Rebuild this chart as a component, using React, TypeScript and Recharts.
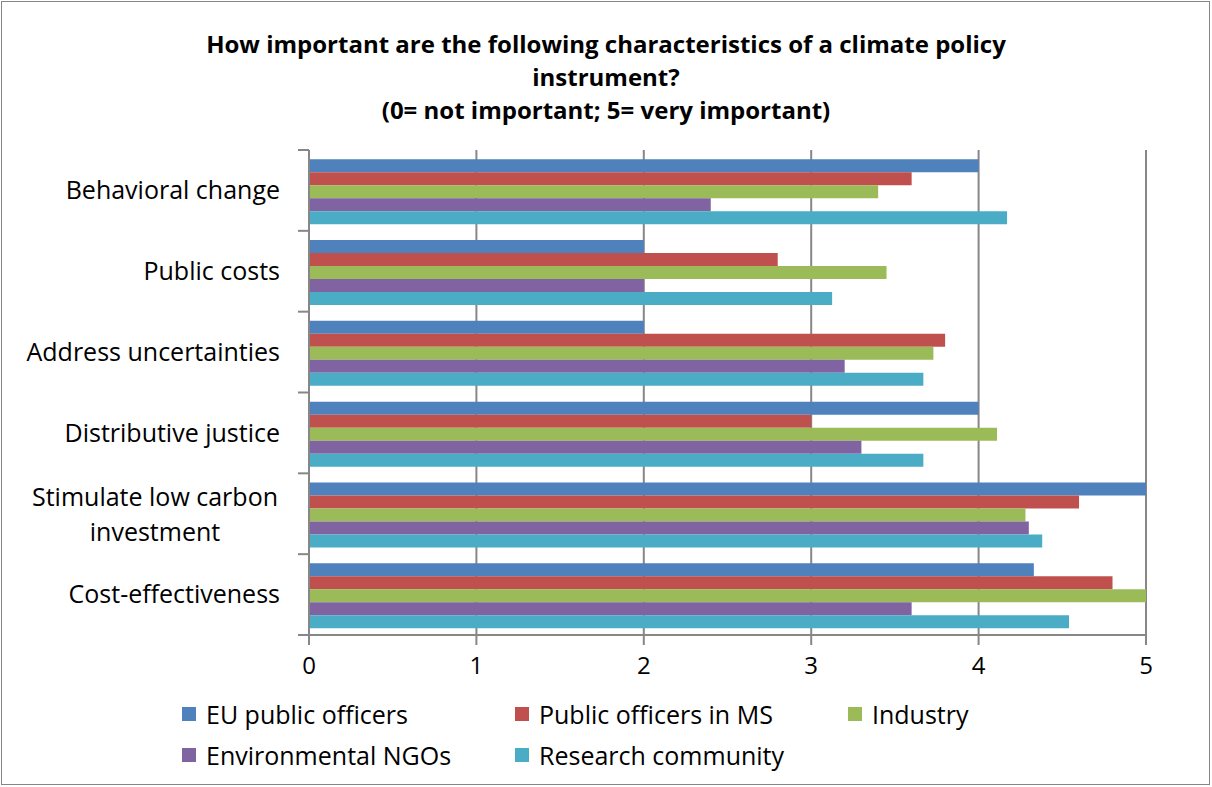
import React from "react";
import { BarChart, Bar, XAxis, YAxis, CartesianGrid } from "recharts";

// Survey scores (0 = not important, 5 = very important)
const categories = [
  "Behavioral change",
  "Public costs",
  "Address uncertainties",
  "Distributive justice",
  "Stimulate low carbon investment",
  "Cost-effectiveness",
];
const euOfficers = [4.0, 2.0, 2.0, 4.0, 5.0, 4.33];
const msOfficers = [3.6, 2.8, 3.8, 3.0, 4.6, 4.8];
const industry = [3.4, 3.45, 3.73, 4.11, 4.28, 5.0];
const ngos = [2.4, 2.0, 3.2, 3.3, 4.3, 3.6];
const research = [4.17, 3.125, 3.67, 3.67, 4.38, 4.54];
const xTicks = [0, 1, 2, 3, 4, 5];

const titleLines = [
  "How important are the following characteristics of a climate policy",
  "instrument?",
  "(0= not important; 5= very important)",
];

const series = [
  { key: "eu", name: "EU public officers", color: "#4F81BD", values: euOfficers },
  { key: "ms", name: "Public officers in MS", color: "#C0504D", values: msOfficers },
  { key: "ind", name: "Industry", color: "#9BBB59", values: industry },
  { key: "ngo", name: "Environmental NGOs", color: "#8064A2", values: ngos },
  { key: "res", name: "Research community", color: "#4BACC6", values: research },
];

const data = categories.map((c, i) => {
  const row: any = { category: c };
  series.forEach((s) => (row[s.key] = s.values[i]));
  return row;
});

const FONT = "'Open Sans', Lato, sans-serif";
const GRID = "#878787";
const W = 1212;
const H = 787;
const M = { top: 150, right: 66, bottom: 112, left: 0 };
const X_AXIS_H = 40;
const PLOT_H = H - M.top - M.bottom - X_AXIS_H;
const BAND = PLOT_H / categories.length;

// wrapped labels, as Excel broke them
const wrapped: Record<string, string[]> = {
  "Stimulate low carbon investment": ["Stimulate low carbon", "investment"],
};

function CategoryTick(props: any) {
  const { x, y, payload, index } = props;
  const lines = wrapped[payload.value] || [payload.value];
  const lineX = x + 18;
  return (
    <g>
      <line x1={lineX} x2={lineX + 11} y1={y - BAND / 2} y2={y - BAND / 2} stroke={GRID} strokeWidth={2} />
      {index === categories.length - 1 && (
        <line x1={lineX} x2={lineX + 11} y1={y + BAND / 2} y2={y + BAND / 2} stroke={GRID} strokeWidth={2} />
      )}
      {lines.length === 1 ? (
        <text x={x} y={y} dy="0.35em" textAnchor="end" fontSize={25} fill="#000" fontFamily={FONT}>
          {lines[0]}
        </text>
      ) : (
        <text fontSize={25} fill="#000" fontFamily={FONT} textAnchor="middle">
          <tspan x={x - 125} y={y - 17} dy="0.35em">{lines[0]}</tspan>
          <tspan x={x - 125} y={y + 18} dy="0.35em">{lines[1]}</tspan>
        </text>
      )}
    </g>
  );
}

export default function App() {
  return (
    <div
      style={{
        position: "absolute",
        left: 0,
        top: 0,
        width: W,
        height: H,
        background: "#fff",
        fontFamily: FONT,
      }}
    >
      <div
        style={{
          position: "absolute",
          left: 1,
          top: 1,
          width: 1207,
          height: 782,
          border: "1px solid #868686",
        }}
      />
      <div
        style={{
          position: "absolute",
          top: 27,
          left: 0,
          width: W,
          textAlign: "center",
          fontWeight: 700,
          fontSize: 24,
          lineHeight: "33px",
          color: "#000",
        }}
      >
        {titleLines.map((t) => (
          <div key={t}>{t}</div>
        ))}
      </div>
      <div style={{ position: "absolute", left: 0, top: 0 }}>
        <BarChart
          width={W}
          height={H}
          data={data}
          layout="vertical"
          margin={M}
          barCategoryGap="11.3%"
          barGap={0}
        >
          <CartesianGrid horizontal={false} vertical stroke={GRID} strokeWidth={2} />
          <XAxis
            type="number"
            domain={[0, 5]}
            ticks={xTicks}
            height={X_AXIS_H}
            axisLine={{ stroke: GRID, strokeWidth: 2 }}
            tickLine={{ stroke: GRID, strokeWidth: 2 }}
            tickSize={10}
            tickMargin={12}
            tick={{ fill: "#000", fontSize: 24, fontFamily: FONT }}
          />
          <YAxis
            type="category"
            dataKey="category"
            width={309}
            axisLine={{ stroke: GRID, strokeWidth: 2 }}
            tickLine={false}
            tickSize={11}
            tickMargin={18}
            tick={<CategoryTick />}
            interval={0}
          />
          {series.map((s) => (
            <Bar key={s.key} dataKey={s.key} name={s.name} fill={s.color} isAnimationActive={false} />
          ))}
        </BarChart>
      </div>
      {series.map((s, i) => {
        const col = i % 3;
        const row = Math.floor(i / 3);
        return (
          <div
            key={s.key}
            style={{
              position: "absolute",
              left: 182 + col * 333,
              top: 714 + row * 41 - 17,
              height: 34,
              display: "flex",
              alignItems: "center",
              fontSize: 25,
              color: "#000",
              whiteSpace: "nowrap",
            }}
          >
            <span style={{ width: 14, height: 14, background: s.color, marginRight: 10, display: "inline-block" }} />
            {s.name}
          </div>
        );
      })}
    </div>
  );
}
